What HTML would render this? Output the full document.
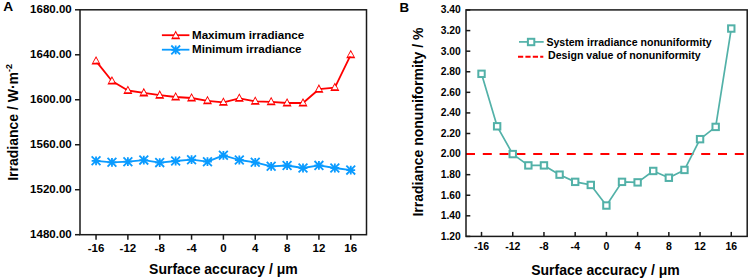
<!DOCTYPE html>
<html><head><meta charset="utf-8"><style>
html,body{margin:0;padding:0;background:#fff;}
body{width:749px;height:279px;overflow:hidden;}
svg{display:block;}
text{font-family:"Liberation Sans",sans-serif;fill:#000;}
</style></head><body>
<svg width="749" height="279" viewBox="0 0 749 279">
<rect width="749" height="279" fill="#fff"/>
<text x="3.2" y="11.3" font-size="13.7" font-weight="bold">A</text>
<line x1="75" y1="234.70" x2="80" y2="234.70" stroke="#1a1a1a" stroke-width="1.5"/>
<text x="71.7" y="238.00" font-size="11.5" font-weight="bold" text-anchor="end">1480.00</text>
<line x1="75" y1="189.72" x2="80" y2="189.72" stroke="#1a1a1a" stroke-width="1.5"/>
<text x="71.7" y="193.02" font-size="11.5" font-weight="bold" text-anchor="end">1520.00</text>
<line x1="75" y1="144.74" x2="80" y2="144.74" stroke="#1a1a1a" stroke-width="1.5"/>
<text x="71.7" y="148.04" font-size="11.5" font-weight="bold" text-anchor="end">1560.00</text>
<line x1="75" y1="99.76" x2="80" y2="99.76" stroke="#1a1a1a" stroke-width="1.5"/>
<text x="71.7" y="103.06" font-size="11.5" font-weight="bold" text-anchor="end">1600.00</text>
<line x1="75" y1="54.78" x2="80" y2="54.78" stroke="#1a1a1a" stroke-width="1.5"/>
<text x="71.7" y="58.08" font-size="11.5" font-weight="bold" text-anchor="end">1640.00</text>
<line x1="75" y1="9.80" x2="80" y2="9.80" stroke="#1a1a1a" stroke-width="1.5"/>
<text x="71.7" y="13.10" font-size="11.5" font-weight="bold" text-anchor="end">1680.00</text>
<line x1="96.04" y1="234.7" x2="96.04" y2="239.7" stroke="#1a1a1a" stroke-width="1.5"/>
<text x="96.04" y="251.6" font-size="11.5" font-weight="bold" text-anchor="middle">-16</text>
<line x1="127.88" y1="234.7" x2="127.88" y2="239.7" stroke="#1a1a1a" stroke-width="1.5"/>
<text x="127.88" y="251.6" font-size="11.5" font-weight="bold" text-anchor="middle">-12</text>
<line x1="159.72" y1="234.7" x2="159.72" y2="239.7" stroke="#1a1a1a" stroke-width="1.5"/>
<text x="159.72" y="251.6" font-size="11.5" font-weight="bold" text-anchor="middle">-8</text>
<line x1="191.56" y1="234.7" x2="191.56" y2="239.7" stroke="#1a1a1a" stroke-width="1.5"/>
<text x="191.56" y="251.6" font-size="11.5" font-weight="bold" text-anchor="middle">-4</text>
<line x1="223.40" y1="234.7" x2="223.40" y2="239.7" stroke="#1a1a1a" stroke-width="1.5"/>
<text x="223.40" y="251.6" font-size="11.5" font-weight="bold" text-anchor="middle">0</text>
<line x1="255.24" y1="234.7" x2="255.24" y2="239.7" stroke="#1a1a1a" stroke-width="1.5"/>
<text x="255.24" y="251.6" font-size="11.5" font-weight="bold" text-anchor="middle">4</text>
<line x1="287.08" y1="234.7" x2="287.08" y2="239.7" stroke="#1a1a1a" stroke-width="1.5"/>
<text x="287.08" y="251.6" font-size="11.5" font-weight="bold" text-anchor="middle">8</text>
<line x1="318.92" y1="234.7" x2="318.92" y2="239.7" stroke="#1a1a1a" stroke-width="1.5"/>
<text x="318.92" y="251.6" font-size="11.5" font-weight="bold" text-anchor="middle">12</text>
<line x1="350.76" y1="234.7" x2="350.76" y2="239.7" stroke="#1a1a1a" stroke-width="1.5"/>
<text x="350.76" y="251.6" font-size="11.5" font-weight="bold" text-anchor="middle">16</text>
<rect x="80.0" y="9.8" width="286.50" height="224.90" fill="none" stroke="#1a1a1a" stroke-width="1.5"/>
<text x="223.4" y="274" font-size="14" font-weight="bold" text-anchor="middle">Surface accuracy / μm</text>
<text transform="translate(17.9,122.4) rotate(-90)" font-size="14" font-weight="bold" text-anchor="middle">Irradiance / W·m<tspan dy="-6.2" font-size="9">-2</tspan></text>
<polyline points="96.04,61.10 111.96,81.00 127.88,90.50 143.80,92.90 159.72,95.20 175.64,97.00 191.56,98.00 207.48,100.80 223.40,102.30 239.32,98.30 255.24,101.30 271.16,101.80 287.08,103.00 303.00,103.00 318.92,89.20 334.84,87.60 350.76,54.80" fill="none" stroke="#ff0000" stroke-width="1.8" stroke-linejoin="round"/>
<polyline points="96.04,160.80 111.96,162.30 127.88,161.70 143.80,160.10 159.72,162.60 175.64,161.00 191.56,159.70 207.48,161.70 223.40,155.30 239.32,160.00 255.24,162.30 271.16,166.30 287.08,165.50 303.00,168.00 318.92,165.40 334.84,168.00 350.76,170.10" fill="none" stroke="#0a9bff" stroke-width="1.8" stroke-linejoin="round"/>
<path d="M96.04 58.10L98.84 62.80L93.24 62.80Z" fill="#fff"/><path d="M96.04 56.00L100.59 64.60L91.49 64.60ZM96.04 58.10L98.84 62.80L93.24 62.80Z" fill="#ff0000" fill-rule="evenodd"/>
<path d="M111.96 78.00L114.76 82.70L109.16 82.70Z" fill="#fff"/><path d="M111.96 75.90L116.51 84.50L107.41 84.50ZM111.96 78.00L114.76 82.70L109.16 82.70Z" fill="#ff0000" fill-rule="evenodd"/>
<path d="M127.88 87.50L130.68 92.20L125.08 92.20Z" fill="#fff"/><path d="M127.88 85.40L132.43 94.00L123.33 94.00ZM127.88 87.50L130.68 92.20L125.08 92.20Z" fill="#ff0000" fill-rule="evenodd"/>
<path d="M143.80 89.90L146.60 94.60L141.00 94.60Z" fill="#fff"/><path d="M143.80 87.80L148.35 96.40L139.25 96.40ZM143.80 89.90L146.60 94.60L141.00 94.60Z" fill="#ff0000" fill-rule="evenodd"/>
<path d="M159.72 92.20L162.52 96.90L156.92 96.90Z" fill="#fff"/><path d="M159.72 90.10L164.27 98.70L155.17 98.70ZM159.72 92.20L162.52 96.90L156.92 96.90Z" fill="#ff0000" fill-rule="evenodd"/>
<path d="M175.64 94.00L178.44 98.70L172.84 98.70Z" fill="#fff"/><path d="M175.64 91.90L180.19 100.50L171.09 100.50ZM175.64 94.00L178.44 98.70L172.84 98.70Z" fill="#ff0000" fill-rule="evenodd"/>
<path d="M191.56 95.00L194.36 99.70L188.76 99.70Z" fill="#fff"/><path d="M191.56 92.90L196.11 101.50L187.01 101.50ZM191.56 95.00L194.36 99.70L188.76 99.70Z" fill="#ff0000" fill-rule="evenodd"/>
<path d="M207.48 97.80L210.28 102.50L204.68 102.50Z" fill="#fff"/><path d="M207.48 95.70L212.03 104.30L202.93 104.30ZM207.48 97.80L210.28 102.50L204.68 102.50Z" fill="#ff0000" fill-rule="evenodd"/>
<path d="M223.40 99.30L226.20 104.00L220.60 104.00Z" fill="#fff"/><path d="M223.40 97.20L227.95 105.80L218.85 105.80ZM223.40 99.30L226.20 104.00L220.60 104.00Z" fill="#ff0000" fill-rule="evenodd"/>
<path d="M239.32 95.30L242.12 100.00L236.52 100.00Z" fill="#fff"/><path d="M239.32 93.20L243.87 101.80L234.77 101.80ZM239.32 95.30L242.12 100.00L236.52 100.00Z" fill="#ff0000" fill-rule="evenodd"/>
<path d="M255.24 98.30L258.04 103.00L252.44 103.00Z" fill="#fff"/><path d="M255.24 96.20L259.79 104.80L250.69 104.80ZM255.24 98.30L258.04 103.00L252.44 103.00Z" fill="#ff0000" fill-rule="evenodd"/>
<path d="M271.16 98.80L273.96 103.50L268.36 103.50Z" fill="#fff"/><path d="M271.16 96.70L275.71 105.30L266.61 105.30ZM271.16 98.80L273.96 103.50L268.36 103.50Z" fill="#ff0000" fill-rule="evenodd"/>
<path d="M287.08 100.00L289.88 104.70L284.28 104.70Z" fill="#fff"/><path d="M287.08 97.90L291.63 106.50L282.53 106.50ZM287.08 100.00L289.88 104.70L284.28 104.70Z" fill="#ff0000" fill-rule="evenodd"/>
<path d="M303.00 100.00L305.80 104.70L300.20 104.70Z" fill="#fff"/><path d="M303.00 97.90L307.55 106.50L298.45 106.50ZM303.00 100.00L305.80 104.70L300.20 104.70Z" fill="#ff0000" fill-rule="evenodd"/>
<path d="M318.92 86.20L321.72 90.90L316.12 90.90Z" fill="#fff"/><path d="M318.92 84.10L323.47 92.70L314.37 92.70ZM318.92 86.20L321.72 90.90L316.12 90.90Z" fill="#ff0000" fill-rule="evenodd"/>
<path d="M334.84 84.60L337.64 89.30L332.04 89.30Z" fill="#fff"/><path d="M334.84 82.50L339.39 91.10L330.29 91.10ZM334.84 84.60L337.64 89.30L332.04 89.30Z" fill="#ff0000" fill-rule="evenodd"/>
<path d="M350.76 51.80L353.56 56.50L347.96 56.50Z" fill="#fff"/><path d="M350.76 49.70L355.31 58.30L346.21 58.30ZM350.76 51.80L353.56 56.50L347.96 56.50Z" fill="#ff0000" fill-rule="evenodd"/>
<path d="M91.64 160.80L100.44 160.80M96.04 156.40L96.04 165.20M91.64 156.40L100.44 165.20M91.64 165.20L100.44 156.40" stroke="#0a9bff" stroke-width="1.8" fill="none"/>
<path d="M107.56 162.30L116.36 162.30M111.96 157.90L111.96 166.70M107.56 157.90L116.36 166.70M107.56 166.70L116.36 157.90" stroke="#0a9bff" stroke-width="1.8" fill="none"/>
<path d="M123.48 161.70L132.28 161.70M127.88 157.30L127.88 166.10M123.48 157.30L132.28 166.10M123.48 166.10L132.28 157.30" stroke="#0a9bff" stroke-width="1.8" fill="none"/>
<path d="M139.40 160.10L148.20 160.10M143.80 155.70L143.80 164.50M139.40 155.70L148.20 164.50M139.40 164.50L148.20 155.70" stroke="#0a9bff" stroke-width="1.8" fill="none"/>
<path d="M155.32 162.60L164.12 162.60M159.72 158.20L159.72 167.00M155.32 158.20L164.12 167.00M155.32 167.00L164.12 158.20" stroke="#0a9bff" stroke-width="1.8" fill="none"/>
<path d="M171.24 161.00L180.04 161.00M175.64 156.60L175.64 165.40M171.24 156.60L180.04 165.40M171.24 165.40L180.04 156.60" stroke="#0a9bff" stroke-width="1.8" fill="none"/>
<path d="M187.16 159.70L195.96 159.70M191.56 155.30L191.56 164.10M187.16 155.30L195.96 164.10M187.16 164.10L195.96 155.30" stroke="#0a9bff" stroke-width="1.8" fill="none"/>
<path d="M203.08 161.70L211.88 161.70M207.48 157.30L207.48 166.10M203.08 157.30L211.88 166.10M203.08 166.10L211.88 157.30" stroke="#0a9bff" stroke-width="1.8" fill="none"/>
<path d="M219.00 155.30L227.80 155.30M223.40 150.90L223.40 159.70M219.00 150.90L227.80 159.70M219.00 159.70L227.80 150.90" stroke="#0a9bff" stroke-width="1.8" fill="none"/>
<path d="M234.92 160.00L243.72 160.00M239.32 155.60L239.32 164.40M234.92 155.60L243.72 164.40M234.92 164.40L243.72 155.60" stroke="#0a9bff" stroke-width="1.8" fill="none"/>
<path d="M250.84 162.30L259.64 162.30M255.24 157.90L255.24 166.70M250.84 157.90L259.64 166.70M250.84 166.70L259.64 157.90" stroke="#0a9bff" stroke-width="1.8" fill="none"/>
<path d="M266.76 166.30L275.56 166.30M271.16 161.90L271.16 170.70M266.76 161.90L275.56 170.70M266.76 170.70L275.56 161.90" stroke="#0a9bff" stroke-width="1.8" fill="none"/>
<path d="M282.68 165.50L291.48 165.50M287.08 161.10L287.08 169.90M282.68 161.10L291.48 169.90M282.68 169.90L291.48 161.10" stroke="#0a9bff" stroke-width="1.8" fill="none"/>
<path d="M298.60 168.00L307.40 168.00M303.00 163.60L303.00 172.40M298.60 163.60L307.40 172.40M298.60 172.40L307.40 163.60" stroke="#0a9bff" stroke-width="1.8" fill="none"/>
<path d="M314.52 165.40L323.32 165.40M318.92 161.00L318.92 169.80M314.52 161.00L323.32 169.80M314.52 169.80L323.32 161.00" stroke="#0a9bff" stroke-width="1.8" fill="none"/>
<path d="M330.44 168.00L339.24 168.00M334.84 163.60L334.84 172.40M330.44 163.60L339.24 172.40M330.44 172.40L339.24 163.60" stroke="#0a9bff" stroke-width="1.8" fill="none"/>
<path d="M346.36 170.10L355.16 170.10M350.76 165.70L350.76 174.50M346.36 165.70L355.16 174.50M346.36 174.50L355.16 165.70" stroke="#0a9bff" stroke-width="1.8" fill="none"/>
<line x1="161.9" y1="35.2" x2="189.4" y2="35.2" stroke="#ff0000" stroke-width="1.8"/>
<path d="M175.70 32.70L178.50 37.40L172.90 37.40Z" fill="#fff"/><path d="M175.70 30.60L180.25 39.20L171.15 39.20ZM175.70 32.70L178.50 37.40L172.90 37.40Z" fill="#ff0000" fill-rule="evenodd"/>
<text x="192" y="38.6" font-size="11.6" font-weight="bold">Maximum irradiance</text>
<line x1="161.9" y1="49.7" x2="189.4" y2="49.7" stroke="#0a9bff" stroke-width="1.8"/>
<path d="M171.30 49.90L180.10 49.90M175.70 45.50L175.70 54.30M171.30 45.50L180.10 54.30M171.30 54.30L180.10 45.50" stroke="#0a9bff" stroke-width="1.8" fill="none"/>
<text x="192" y="53.4" font-size="11.6" font-weight="bold">Minimum irradiance</text>
<text x="399.6" y="11.5" font-size="13.3" font-weight="bold">B</text>
<line x1="466.0" y1="236.40" x2="470.3" y2="236.40" stroke="#1a1a1a" stroke-width="1.5"/>
<text x="460.8" y="239.80" font-size="10.3" font-weight="bold" text-anchor="end">1.20</text>
<line x1="466.0" y1="215.82" x2="470.3" y2="215.82" stroke="#1a1a1a" stroke-width="1.5"/>
<text x="460.8" y="219.22" font-size="10.3" font-weight="bold" text-anchor="end">1.40</text>
<line x1="466.0" y1="195.24" x2="470.3" y2="195.24" stroke="#1a1a1a" stroke-width="1.5"/>
<text x="460.8" y="198.64" font-size="10.3" font-weight="bold" text-anchor="end">1.60</text>
<line x1="466.0" y1="174.66" x2="470.3" y2="174.66" stroke="#1a1a1a" stroke-width="1.5"/>
<text x="460.8" y="178.06" font-size="10.3" font-weight="bold" text-anchor="end">1.80</text>
<line x1="466.0" y1="154.08" x2="470.3" y2="154.08" stroke="#1a1a1a" stroke-width="1.5"/>
<text x="460.8" y="157.48" font-size="10.3" font-weight="bold" text-anchor="end">2.00</text>
<line x1="466.0" y1="133.50" x2="470.3" y2="133.50" stroke="#1a1a1a" stroke-width="1.5"/>
<text x="460.8" y="136.90" font-size="10.3" font-weight="bold" text-anchor="end">2.20</text>
<line x1="466.0" y1="112.92" x2="470.3" y2="112.92" stroke="#1a1a1a" stroke-width="1.5"/>
<text x="460.8" y="116.32" font-size="10.3" font-weight="bold" text-anchor="end">2.40</text>
<line x1="466.0" y1="92.34" x2="470.3" y2="92.34" stroke="#1a1a1a" stroke-width="1.5"/>
<text x="460.8" y="95.74" font-size="10.3" font-weight="bold" text-anchor="end">2.60</text>
<line x1="466.0" y1="71.76" x2="470.3" y2="71.76" stroke="#1a1a1a" stroke-width="1.5"/>
<text x="460.8" y="75.16" font-size="10.3" font-weight="bold" text-anchor="end">2.80</text>
<line x1="466.0" y1="51.18" x2="470.3" y2="51.18" stroke="#1a1a1a" stroke-width="1.5"/>
<text x="460.8" y="54.58" font-size="10.3" font-weight="bold" text-anchor="end">3.00</text>
<line x1="466.0" y1="30.60" x2="470.3" y2="30.60" stroke="#1a1a1a" stroke-width="1.5"/>
<text x="460.8" y="34.00" font-size="10.3" font-weight="bold" text-anchor="end">3.20</text>
<line x1="466.0" y1="10.02" x2="470.3" y2="10.02" stroke="#1a1a1a" stroke-width="1.5"/>
<text x="460.8" y="13.42" font-size="10.3" font-weight="bold" text-anchor="end">3.40</text>
<line x1="481.52" y1="236.4" x2="481.52" y2="231.9" stroke="#1a1a1a" stroke-width="1.5"/>
<text x="481.52" y="249.8" font-size="10.5" font-weight="bold" text-anchor="middle">-16</text>
<line x1="512.74" y1="236.4" x2="512.74" y2="231.9" stroke="#1a1a1a" stroke-width="1.5"/>
<text x="512.74" y="249.8" font-size="10.5" font-weight="bold" text-anchor="middle">-12</text>
<line x1="543.96" y1="236.4" x2="543.96" y2="231.9" stroke="#1a1a1a" stroke-width="1.5"/>
<text x="543.96" y="249.8" font-size="10.5" font-weight="bold" text-anchor="middle">-8</text>
<line x1="575.18" y1="236.4" x2="575.18" y2="231.9" stroke="#1a1a1a" stroke-width="1.5"/>
<text x="575.18" y="249.8" font-size="10.5" font-weight="bold" text-anchor="middle">-4</text>
<line x1="606.40" y1="236.4" x2="606.40" y2="231.9" stroke="#1a1a1a" stroke-width="1.5"/>
<text x="606.40" y="249.8" font-size="10.5" font-weight="bold" text-anchor="middle">0</text>
<line x1="637.62" y1="236.4" x2="637.62" y2="231.9" stroke="#1a1a1a" stroke-width="1.5"/>
<text x="637.62" y="249.8" font-size="10.5" font-weight="bold" text-anchor="middle">4</text>
<line x1="668.84" y1="236.4" x2="668.84" y2="231.9" stroke="#1a1a1a" stroke-width="1.5"/>
<text x="668.84" y="249.8" font-size="10.5" font-weight="bold" text-anchor="middle">8</text>
<line x1="700.06" y1="236.4" x2="700.06" y2="231.9" stroke="#1a1a1a" stroke-width="1.5"/>
<text x="700.06" y="249.8" font-size="10.5" font-weight="bold" text-anchor="middle">12</text>
<line x1="731.28" y1="236.4" x2="731.28" y2="231.9" stroke="#1a1a1a" stroke-width="1.5"/>
<text x="731.28" y="249.8" font-size="10.5" font-weight="bold" text-anchor="middle">16</text>
<line x1="466.0" y1="154.08" x2="747.2" y2="154.08" stroke="#ff0000" stroke-width="2" stroke-dasharray="9 7.8"/>
<polyline points="481.52,73.82 497.13,126.30 512.74,154.08 528.35,165.40 543.96,165.40 559.57,174.66 575.18,181.86 590.79,184.95 606.40,205.53 622.01,181.86 637.62,182.38 653.23,170.96 668.84,177.75 684.45,169.93 700.06,139.16 715.67,126.91 731.28,28.54" fill="none" stroke="#52b1a8" stroke-width="1.7" stroke-linejoin="round"/>
<rect x="478.32" y="70.62" width="6.40" height="6.40" fill="#fff" stroke="#52b1a8" stroke-width="2"/>
<rect x="493.93" y="123.10" width="6.40" height="6.40" fill="#fff" stroke="#52b1a8" stroke-width="2"/>
<rect x="509.54" y="150.88" width="6.40" height="6.40" fill="#fff" stroke="#52b1a8" stroke-width="2"/>
<rect x="525.15" y="162.20" width="6.40" height="6.40" fill="#fff" stroke="#52b1a8" stroke-width="2"/>
<rect x="540.76" y="162.20" width="6.40" height="6.40" fill="#fff" stroke="#52b1a8" stroke-width="2"/>
<rect x="556.37" y="171.46" width="6.40" height="6.40" fill="#fff" stroke="#52b1a8" stroke-width="2"/>
<rect x="571.98" y="178.66" width="6.40" height="6.40" fill="#fff" stroke="#52b1a8" stroke-width="2"/>
<rect x="587.59" y="181.75" width="6.40" height="6.40" fill="#fff" stroke="#52b1a8" stroke-width="2"/>
<rect x="603.20" y="202.33" width="6.40" height="6.40" fill="#fff" stroke="#52b1a8" stroke-width="2"/>
<rect x="618.81" y="178.66" width="6.40" height="6.40" fill="#fff" stroke="#52b1a8" stroke-width="2"/>
<rect x="634.42" y="179.18" width="6.40" height="6.40" fill="#fff" stroke="#52b1a8" stroke-width="2"/>
<rect x="650.03" y="167.76" width="6.40" height="6.40" fill="#fff" stroke="#52b1a8" stroke-width="2"/>
<rect x="665.64" y="174.55" width="6.40" height="6.40" fill="#fff" stroke="#52b1a8" stroke-width="2"/>
<rect x="681.25" y="166.73" width="6.40" height="6.40" fill="#fff" stroke="#52b1a8" stroke-width="2"/>
<rect x="696.86" y="135.96" width="6.40" height="6.40" fill="#fff" stroke="#52b1a8" stroke-width="2"/>
<rect x="712.47" y="123.71" width="6.40" height="6.40" fill="#fff" stroke="#52b1a8" stroke-width="2"/>
<rect x="728.08" y="25.34" width="6.40" height="6.40" fill="#fff" stroke="#52b1a8" stroke-width="2"/>
<rect x="466.0" y="9.9" width="281.20" height="226.50" fill="none" stroke="#1a1a1a" stroke-width="1.5"/>
<text x="605.5" y="274.9" font-size="14" font-weight="bold" text-anchor="middle">Surface accuracy / μm</text>
<text transform="translate(423.3,122.1) rotate(-90)" font-size="14" font-weight="bold" text-anchor="middle">Irradiance nonuniformity / %</text>
<line x1="519" y1="41.9" x2="543.7" y2="41.9" stroke="#52b1a8" stroke-width="1.7"/>
<rect x="527.90" y="38.80" width="6.40" height="6.40" fill="#fff" stroke="#52b1a8" stroke-width="2"/>
<text x="546.4" y="45.8" font-size="10.58" font-weight="bold">System irradiance nonuniformity</text>
<line x1="518" y1="56.7" x2="543.3" y2="56.7" stroke="#ff0000" stroke-width="2" stroke-dasharray="5.2 2.2"/>
<text x="548" y="59.4" font-size="10.62" font-weight="bold">Design value of nonuniformity</text>
</svg>
</body></html>
